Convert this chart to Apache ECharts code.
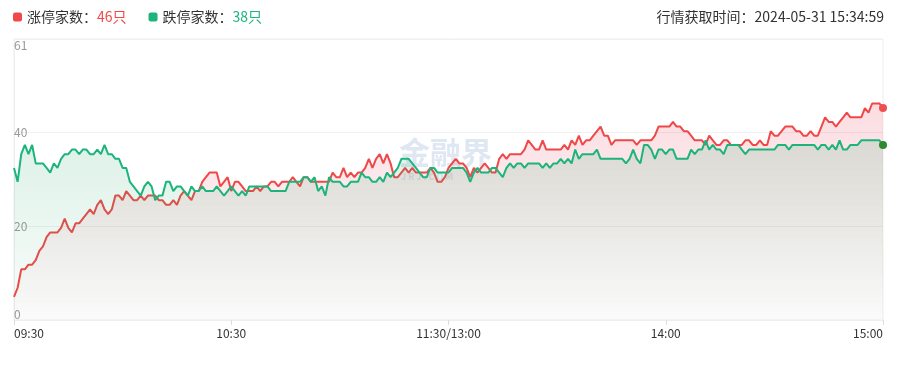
<!DOCTYPE html>
<html>
<head>
<meta charset="utf-8">
<script src="https://cdn.jsdelivr.net/npm/echarts@6/dist/echarts.min.js"></script>
<style>html,body{margin:0;padding:0;background:#fff}#c{width:901px;height:365px}</style>
</head>
<body>
<div id="c"></div>
<script>
// ---- data ----
const tickLabels = ['09:30', '10:30', '11:30/13:00', '14:00', '15:00'];
const fetchTime = '2024-05-31 15:34:59';
const yTickCount = 3;
const yMax = 61;

// 涨停家数 (limit up), one value per minute
const limitUp = [
  5,7,11,11,12,12,13,15,16,18,19,19,19,20,22,20,19,21,21,22,
  23,24,23,25,26,24,23,24,27,27,26,28,27,26,26,27,26,27,27,27,
  26,26,25,25,26,25,27,28,27,26,28,28,30,31,32,32,32,29,30,31,
  28,30,30,29,28,28,28,29,28,29,29,30,30,29,30,30,30,31,30,29,
  31,31,30,30,30,30,30,30,32,31,31,33,31,32,31,32,32,33,35,33,
  35,36,34,36,34,31,31,32,33,32,33,32,32,32,32,33,32,30,30,31,
  33,34,35,34,34,33,31,33,32,33,34,33,32,32,35,36,35,36,36,36,
  36,37,39,38,37,37,39,37,37,37,37,37,38,37,39,38,40,38,39,39,
  40,41,42,40,40,38,39,39,39,39,39,39,38,39,39,39,39,40,42,42,
  42,42,43,42,42,41,41,40,39,39,39,38,40,39,38,38,39,39,38,38,
  38,38,39,39,38,38,39,38,38,41,40,40,41,42,42,42,41,41,40,40,
  41,40,40,42,44,43,43,42,43,44,45,44,44,44,44,46,45,47,47,47,46
];

// 跌停家数 (limit down)
const limitDown = [
  33,30,36,38,36,38,34,34,34,33,32,34,33,35,36,36,37,37,36,37,
  37,36,36,37,36,38,36,36,35,35,33,33,30,29,28,27,29,30,29,26,
  27,27,30,30,28,29,29,28,27,29,28,28,29,28,28,28,29,28,27,28,
  29,28,27,28,27,29,29,29,29,29,29,28,28,28,28,28,30,30,30,30,
  31,31,30,31,28,29,27,31,30,30,30,29,29,30,30,30,32,31,31,30,
  30,31,30,32,31,32,33,35,35,35,34,33,32,31,31,33,33,32,32,32,
  32,33,33,33,33,32,30,32,33,32,32,32,33,33,32,31,33,34,33,34,
  34,33,34,34,34,34,33,34,33,34,34,35,34,35,34,37,35,36,36,36,
  36,37,35,35,35,35,35,35,35,34,35,37,35,34,38,38,37,35,37,37,
  36,37,37,35,35,35,35,37,36,37,37,39,37,38,37,37,36,38,38,38,
  38,37,36,37,37,37,37,37,37,37,37,38,38,38,37,38,38,38,38,38,
  38,38,37,38,38,37,38,37,39,37,37,38,38,38,39,39,39,39,39,39,38
];

// trading minutes: 09:30-11:30, 13:01-15:00
function pad(n) { return (n < 10 ? '0' : '') + n; }
const categories = [];
for (let m = 9 * 60 + 30; m <= 11 * 60 + 30; m++) categories.push(pad(Math.floor(m / 60)) + ':' + pad(m % 60));
for (let m = 13 * 60 + 1; m <= 15 * 60; m++) categories.push(pad(Math.floor(m / 60)) + ':' + pad(m % 60));

const RED = '#f04848';
const GREEN = '#1db47c';
const FONT = '"Noto Sans CJK SC", "Microsoft YaHei", sans-serif';

function withEndDot(arr, color) {
  return arr.map((v, i) => i === arr.length - 1
    ? { value: v, symbol: 'circle', symbolSize: 8, itemStyle: { color: color } }
    : v);
}

const upLast = limitUp[limitUp.length - 1];
const downLast = limitDown[limitDown.length - 1];
const step = (categories.length - 1) / (tickLabels.length - 1);

const chart = echarts.init(document.getElementById('c'), null, { renderer: 'canvas' });
chart.setOption({
  animation: false,
  textStyle: { fontFamily: FONT },
  title: {
    text: '行情获取时间：' + fetchTime,
    right: 17, top: 10, padding: 0,
    textStyle: { fontSize: 14, fontWeight: 'normal', color: '#333', fontFamily: FONT }
  },
  legend: {
    left: 13, top: 10, padding: 0,
    icon: 'roundRect', itemWidth: 9, itemHeight: 9, itemGap: 22, itemTextGap: 9,
    data: ['涨停家数', '跌停家数'],
    formatter: function (name) {
      return name === '涨停家数'
        ? '{n|' + name + '：}{r|' + upLast + '只}'
        : '{n|' + name + '：}{g|' + downLast + '只}';
    },
    textStyle: {
      fontSize: 14, color: '#333', fontFamily: FONT,
      rich: {
        n: { fontSize: 14, color: '#333', fontFamily: FONT },
        r: { fontSize: 14, color: RED, fontFamily: FONT },
        g: { fontSize: 14, color: GREEN, fontFamily: FONT }
      }
    }
  },
  grid: { left: 14, right: 18, top: 39, bottom: 45, show: true, borderColor: '#eeeeee', borderWidth: 1 },
  graphic: [
    { type: 'text', left: 399, top: 137, z: 1, silent: true,
      style: { text: '金融界', font: 'bold 31px ' + FONT, fill: 'rgba(150,175,215,0.30)' } },
    { type: 'text', left: 401, top: 172, z: 1, silent: true,
      style: { text: 'J R J . C O M', font: 'bold 9px ' + FONT, fill: 'rgba(150,175,215,0.30)' } }
  ],
  xAxis: {
    type: 'category', data: categories, boundaryGap: false,
    axisLine: { lineStyle: { color: '#eeeeee' } },
    axisTick: { show: true, interval: (i) => i % step === 0, length: 5, lineStyle: { color: '#dddddd' } },
    axisLabel: {
      interval: (i) => i % step === 0,
      formatter: (v, i) => tickLabels[Math.round(i / step)],
      color: '#333', fontSize: 12, margin: 7,
      alignMinLabel: 'left', alignMaxLabel: 'right'
    },
    splitLine: { show: false }
  },
  yAxis: {
    type: 'value', min: 0, max: yMax, interval: yMax / yTickCount,
    axisLine: { show: true, lineStyle: { color: '#eeeeee' } },
    axisTick: { show: false },
    axisLabel: {
      inside: true, margin: 0, color: '#999', fontSize: 12,
      formatter: (v) => Math.floor(v + 1e-6),
      verticalAlignMinLabel: 'bottom', verticalAlignMaxLabel: 'top'
    },
    splitLine: { lineStyle: { color: '#f0f0f0' } }
  },
  series: [
    {
      name: '涨停家数', type: 'line', data: withEndDot(limitUp, '#ee5050'),
      symbol: 'none', showSymbol: true, showAllSymbol: true, z: 2,
      lineStyle: { width: 2, color: RED }, itemStyle: { color: RED },
      areaStyle: {
        color: new echarts.graphic.LinearGradient(0, 0, 0, 1, [
          { offset: 0, color: 'rgba(230,60,85,0.25)' },
          { offset: 1, color: 'rgba(230,60,85,0.01)' }
        ])
      }
    },
    {
      name: '跌停家数', type: 'line', data: withEndDot(limitDown, '#2e8a2e'),
      symbol: 'none', showSymbol: true, showAllSymbol: true, z: 3,
      lineStyle: { width: 2, color: GREEN }, itemStyle: { color: GREEN },
      areaStyle: {
        color: new echarts.graphic.LinearGradient(0, 0, 0, 1, [
          { offset: 0, color: 'rgba(35,165,105,0.22)' },
          { offset: 1, color: 'rgba(35,165,105,0.03)' }
        ])
      }
    }
  ]
});
</script>
</body>
</html>
